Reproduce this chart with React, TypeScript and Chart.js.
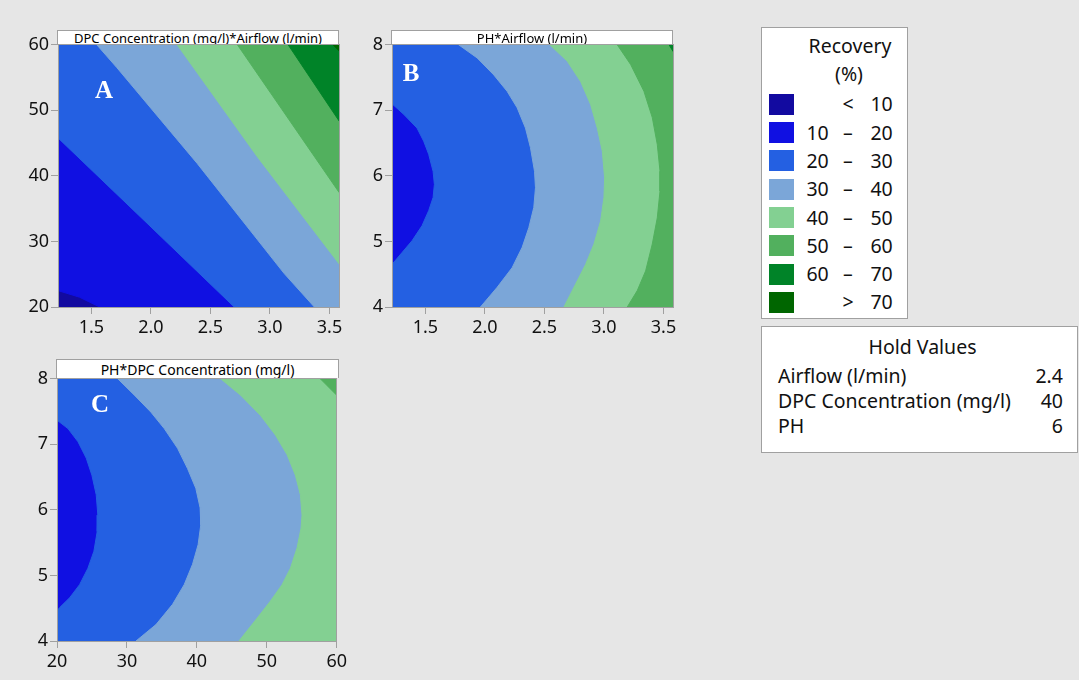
import React, { useEffect, useRef } from 'react';
import { Chart, registerables } from 'chart.js';

Chart.register(...registerables);

// ---------- axis ranges and ticks ----------
const AIRFLOW_RANGE: [number, number] = [1.22, 3.58];
const DPC_RANGE: [number, number] = [20, 60];
const PH_RANGE: [number, number] = [4, 8];

const AIRFLOW_TICKS = [1.5, 2.0, 2.5, 3.0, 3.5];
const DPC_TICKS = [20, 30, 40, 50, 60];
const PH_TICKS = [4, 5, 6, 7, 8];

// ---------- contour bands ----------
const BAND_COLORS = ['#120aa0', '#1010e2', '#2460e2', '#7ba6d8', '#83d092', '#52b05e', '#008328', '#006600'];
const LEGEND_LOW = ['', '10', '20', '30', '40', '50', '60', ''];
const LEGEND_MID = ['<', '–', '–', '–', '–', '–', '–', '>'];
const LEGEND_HIGH = ['10', '20', '30', '40', '50', '60', '70', '70'];

const HOLD_NAMES = ['Airflow (l/min)', 'DPC Concentration (mg/l)', 'PH'];
const HOLD_VALUES = ['2.4', '40', '6'];

type Pt = [number, number];
type Corner = 'tl' | 'tr' | 'br' | 'bl';

// Panel A: x = Airflow, y = DPC concentration. Contour lines (levels 10..70)
const A_LINE_10: Pt[] = [[1.22, 22.5], [1.40, 21.5], [1.57, 20]];
const A_LINE_20: Pt[] = [[1.22, 45.8], [1.95, 33.1], [2.70, 20]];
const A_LINE_30: Pt[] = [[1.546, 60], [1.715, 56.5], [2.389, 41.9], [3.12, 25.1], [3.373, 20]];
const A_LINE_40: Pt[] = [[2.221, 60], [2.895, 42.9], [3.58, 26.6]];
const A_LINE_50: Pt[] = [[2.727, 60], [3.58, 37.5]];
const A_LINE_60: Pt[] = [[3.153, 60], [3.58, 48.4]];
const A_LINE_70: Pt[] = [[3.53, 60], [3.58, 59.1]];

// Panel B: x = Airflow, y = PH
const B_LINE_20: Pt[] = [[1.22, 7.10], [1.318, 6.94], [1.43, 6.73], [1.486, 6.53], [1.528, 6.33], [1.565, 6.07], [1.576, 5.87], [1.565, 5.67], [1.528, 5.47], [1.472, 5.24], [1.388, 5.01], [1.304, 4.83], [1.22, 4.65]];
const B_LINE_30: Pt[] = [[1.78, 8], [1.935, 7.80], [2.075, 7.54], [2.187, 7.29], [2.271, 7.04], [2.341, 6.73], [2.383, 6.43], [2.417, 6.07], [2.425, 5.82], [2.411, 5.52], [2.369, 5.21], [2.313, 4.91], [2.229, 4.60], [2.103, 4.30], [1.963, 4]];
const B_LINE_40: Pt[] = [[2.546, 8], [2.692, 7.75], [2.804, 7.44], [2.888, 7.09], [2.944, 6.73], [2.986, 6.38], [3.006, 5.97], [3.0, 5.67], [2.972, 5.31], [2.916, 4.96], [2.846, 4.65], [2.762, 4.35], [2.664, 4]];
const B_LINE_50: Pt[] = [[3.112, 8], [3.224, 7.70], [3.336, 7.29], [3.406, 6.89], [3.448, 6.48], [3.471, 6.07], [3.471, 5.77], [3.448, 5.36], [3.406, 4.96], [3.35, 4.55], [3.28, 4.25], [3.196, 4]];
const B_LINE_60: Pt[] = [[3.547, 8], [3.58, 7.90]];

// Panel C: x = DPC concentration, y = PH
const C_LINE_20: Pt[] = [[20, 7.37], [21.57, 7.24], [23.0, 7.04], [24.18, 6.79], [24.99, 6.53], [25.61, 6.23], [25.84, 5.92], [25.75, 5.67], [25.28, 5.37], [24.42, 5.11], [23.23, 4.86], [21.81, 4.66], [20.38, 4.51], [20, 4.46]];
const C_LINE_30: Pt[] = [[28.69, 8], [31.07, 7.75], [33.44, 7.49], [35.34, 7.24], [37.24, 6.94], [38.67, 6.63], [39.85, 6.33], [40.47, 6.03], [40.56, 5.77], [40.18, 5.47], [39.38, 5.17], [38.19, 4.86], [36.53, 4.56], [34.15, 4.25], [31.3, 4]];
const C_LINE_40: Pt[] = [[43.41, 8], [46.26, 7.75], [49.11, 7.44], [51.25, 7.14], [52.91, 6.84], [54.09, 6.53], [54.81, 6.23], [55.04, 5.92], [54.9, 5.72], [54.33, 5.42], [53.38, 5.11], [52.19, 4.86], [50.53, 4.61], [48.63, 4.35], [46.02, 4]];
const C_LINE_50: Pt[] = [[57.66, 8], [60, 7.75]];

interface Contour { line: Pt[]; band: number; close: Corner[] }
interface PanelSpec {
  xRange: [number, number];
  yRange: [number, number];
  xTicks: number[];
  yTicks: number[];
  xDigits: number;
  baseBand: number;
  contours: Contour[];
  yAxisWidth: number;
}

const PANEL_A: PanelSpec = {
  xRange: AIRFLOW_RANGE, yRange: DPC_RANGE, xTicks: AIRFLOW_TICKS, yTicks: DPC_TICKS, xDigits: 1, baseBand: 0, yAxisWidth: 58,
  contours: [
    { line: A_LINE_10, band: 1, close: ['br', 'tr', 'tl'] },
    { line: A_LINE_20, band: 2, close: ['br', 'tr', 'tl'] },
    { line: A_LINE_30, band: 3, close: ['br', 'tr'] },
    { line: A_LINE_40, band: 4, close: ['tr'] },
    { line: A_LINE_50, band: 5, close: ['tr'] },
    { line: A_LINE_60, band: 6, close: ['tr'] },
    { line: A_LINE_70, band: 7, close: ['tr'] },
  ],
};
const PANEL_B: PanelSpec = {
  xRange: AIRFLOW_RANGE, yRange: PH_RANGE, xTicks: AIRFLOW_TICKS, yTicks: PH_TICKS, xDigits: 1, baseBand: 1, yAxisWidth: 58,
  contours: [
    { line: B_LINE_20, band: 2, close: ['bl', 'br', 'tr', 'tl'] },
    { line: B_LINE_30, band: 3, close: ['br', 'tr'] },
    { line: B_LINE_40, band: 4, close: ['br', 'tr'] },
    { line: B_LINE_50, band: 5, close: ['br', 'tr'] },
    { line: B_LINE_60, band: 6, close: ['tr'] },
  ],
};
const PANEL_C: PanelSpec = {
  xRange: DPC_RANGE, yRange: PH_RANGE, xTicks: DPC_TICKS, yTicks: PH_TICKS, xDigits: 0, baseBand: 1, yAxisWidth: 57,
  contours: [
    { line: C_LINE_20, band: 2, close: ['bl', 'br', 'tr', 'tl'] },
    { line: C_LINE_30, band: 3, close: ['br', 'tr'] },
    { line: C_LINE_40, band: 4, close: ['br', 'tr'] },
    { line: C_LINE_50, band: 5, close: ['tr'] },
  ],
};

const AXIS_GRAY = '#a0a0a0';
const TEXT_COLOR = '#111111';
const UI_FONT = '"Noto Sans", "Open Sans", sans-serif';

function cornerPoint(c: Corner, xr: [number, number], yr: [number, number]) {
  return { x: c[1] === 'r' ? xr[1] : xr[0], y: c[0] === 't' ? yr[1] : yr[0] };
}

function buildDatasets(spec: PanelSpec) {
  const { xRange: xr, yRange: yr } = spec;
  const polys: { pts: { x: number; y: number }[]; color: string }[] = [];
  const rect = (['bl', 'br', 'tr', 'tl', 'bl'] as Corner[]).map((c) => cornerPoint(c, xr, yr));
  polys.push({ pts: rect, color: BAND_COLORS[spec.baseBand] });
  for (const c of spec.contours) {
    const pts = c.line.map(([x, y]) => ({ x, y }));
    for (const k of c.close) pts.push(cornerPoint(k, xr, yr));
    pts.push({ ...pts[0] });
    polys.push({ pts, color: BAND_COLORS[c.band] });
  }
  const n = polys.length;
  return polys.map((p, i) => ({
    data: p.pts,
    fill: 'shape' as const,
    backgroundColor: p.color,
    borderColor: p.color,
    borderWidth: 1,
    pointRadius: 0,
    tension: 0,
    order: n - i,
    clip: 0,
  }));
}

function ContourPanel({ spec, left, top }: { spec: PanelSpec; left: number; top: number }) {
  const ref = useRef<HTMLCanvasElement>(null);
  useEffect(() => {
    const tickFont = { family: UI_FONT, size: 18 };
    const chart = new Chart(ref.current!, {
      type: 'line',
      data: { datasets: buildDatasets(spec) as any },
      options: {
        animation: false,
        responsive: false,
        devicePixelRatio: 1,
        layout: { padding: { left: 0, top: 12, right: 350 - (spec.yAxisWidth + 281), bottom: 0 } },
        plugins: { legend: { display: false }, tooltip: { enabled: false } },
        events: [],
        scales: {
          x: {
            type: 'linear', position: 'bottom', min: spec.xRange[0], max: spec.xRange[1],
            afterBuildTicks: (s: any) => { s.ticks = spec.xTicks.map((v) => ({ value: v })); },
            afterFit: (s: any) => { s.height = 33; },
            ticks: { font: tickFont, color: TEXT_COLOR, padding: 3, maxRotation: 0, autoSkip: false,
              callback: (v: any) => Number(v).toFixed(spec.xDigits) },
            grid: { drawOnChartArea: false, tickLength: 7, color: AXIS_GRAY },
            border: { color: AXIS_GRAY, z: 1 },
          },
          y: {
            type: 'linear', position: 'left', min: spec.yRange[0], max: spec.yRange[1],
            afterBuildTicks: (s: any) => { s.ticks = spec.yTicks.map((v) => ({ value: v })); },
            afterFit: (s: any) => { s.width = spec.yAxisWidth; },
            ticks: { font: tickFont, color: TEXT_COLOR, padding: 2, autoSkip: false,
              callback: (v: any) => String(v) },
            grid: { drawOnChartArea: false, tickLength: 7, color: AXIS_GRAY },
            border: { color: AXIS_GRAY, z: 1 },
          },
          x2: {
            type: 'linear', position: 'top', min: spec.xRange[0], max: spec.xRange[1],
            ticks: { display: false }, grid: { display: false, drawTicks: false },
            afterFit: (s: any) => { s.height = 0; },
            border: { color: AXIS_GRAY, z: 1 },
          },
          y2: {
            type: 'linear', position: 'right', min: spec.yRange[0], max: spec.yRange[1],
            ticks: { display: false }, grid: { display: false, drawTicks: false },
            afterFit: (s: any) => { s.width = 0; },
            border: { color: AXIS_GRAY, z: 1 },
          },
        },
      } as any,
    });
    return () => chart.destroy();
  }, [spec]);
  return (
    <canvas ref={ref} width={350} height={308}
      style={{ position: 'absolute', left, top, width: 350, height: 308 }} />
  );
}

function Header({ text, left, top, width, height, size }: { text: string; left: number; top: number; width: number; height: number; size: number }) {
  return (
    <div style={{
      position: 'absolute', left, top, width, height, boxSizing: 'border-box', background: '#fff',
      border: `1px solid ${AXIS_GRAY}`, borderBottom: 'none', fontFamily: UI_FONT, fontSize: size, color: '#000',
      textAlign: 'center', lineHeight: `${height}px`, whiteSpace: 'nowrap', overflow: 'hidden',
    }}>{text}</div>
  );
}

function Letter({ ch, cx, cy }: { ch: string; cx: number; cy: number }) {
  return (
    <div style={{
      position: 'absolute', left: cx - 20, top: cy - 16, width: 40, height: 32, textAlign: 'center',
      lineHeight: '32px', fontFamily: '"Liberation Serif", "Times New Roman", serif', fontWeight: 'bold',
      fontSize: 25, color: '#fff',
    }}>{ch}</div>
  );
}

function Legend() {
  const rows = BAND_COLORS.map((c, i) => {
    const cy = 76.3 + i * 28.3;
    return (
      <React.Fragment key={i}>
        <div style={{ position: 'absolute', left: 7, top: cy - 10.5, width: 25, height: 21, background: c }} />
        <span style={{ position: 'absolute', right: 145 - 66.7, top: cy - 13, lineHeight: '26px' }}>{LEGEND_LOW[i]}</span>
        <span style={{ position: 'absolute', left: 86 - 10, width: 20, textAlign: 'center', top: cy - 13, lineHeight: '26px' }}>{LEGEND_MID[i]}</span>
        <span style={{ position: 'absolute', right: 145 - 130.7, top: cy - 13, lineHeight: '26px' }}>{LEGEND_HIGH[i]}</span>
      </React.Fragment>
    );
  });
  return (
    <div style={{
      position: 'absolute', left: 761, top: 27, width: 147, height: 292, boxSizing: 'border-box',
      background: '#fff', border: `1px solid ${AXIS_GRAY}`, fontFamily: UI_FONT, fontSize: 19.5, color: TEXT_COLOR,
    }}>
      <div style={{ position: 'absolute', left: 30, width: 116, textAlign: 'center', top: 5, lineHeight: '26px' }}>Recovery</div>
      <div style={{ position: 'absolute', left: 30, width: 114, textAlign: 'center', top: 33, lineHeight: '26px' }}>(%)</div>
      {rows}
    </div>
  );
}

function HoldValues() {
  return (
    <div style={{
      position: 'absolute', left: 761, top: 326, width: 317, height: 127, boxSizing: 'border-box',
      background: '#fff', border: `1px solid ${AXIS_GRAY}`, fontFamily: UI_FONT, fontSize: 19.5, color: TEXT_COLOR,
    }}>
      <div style={{ position: 'absolute', left: 0, width: 321, textAlign: 'center', top: 7, lineHeight: '26px' }}>Hold Values</div>
      {HOLD_NAMES.map((n, i) => (
        <React.Fragment key={n}>
          <span style={{ position: 'absolute', left: 16, top: 36 + i * 25, lineHeight: '26px' }}>{n}</span>
          <span style={{ position: 'absolute', right: 14, top: 36 + i * 25, lineHeight: '26px' }}>{HOLD_VALUES[i]}</span>
        </React.Fragment>
      ))}
    </div>
  );
}

export default function App() {
  return (
    <div style={{ position: 'fixed', left: 0, top: 0, width: 1079, height: 680, background: '#e6e6e6', overflow: 'hidden' }}>
      <ContourPanel spec={PANEL_A} left={0} top={32} />
      <ContourPanel spec={PANEL_B} left={334} top={32} />
      <ContourPanel spec={PANEL_C} left={0} top={366} />
      <Header text="DPC Concentration (mg/l)*Airflow (l/min)" left={57} top={30} width={282} height={14} size={13} />
      <Header text="PH*Airflow (l/min)" left={391} top={30} width={282} height={14} size={13} />
      <Header text="PH*DPC Concentration (mg/l)" left={56} top={359} width={283} height={19} size={14} />
      <Letter ch="A" cx={104} cy={90} />
      <Letter ch="B" cx={411} cy={73} />
      <Letter ch="C" cx={100} cy={404} />
      <Legend />
      <HoldValues />
    </div>
  );
}
